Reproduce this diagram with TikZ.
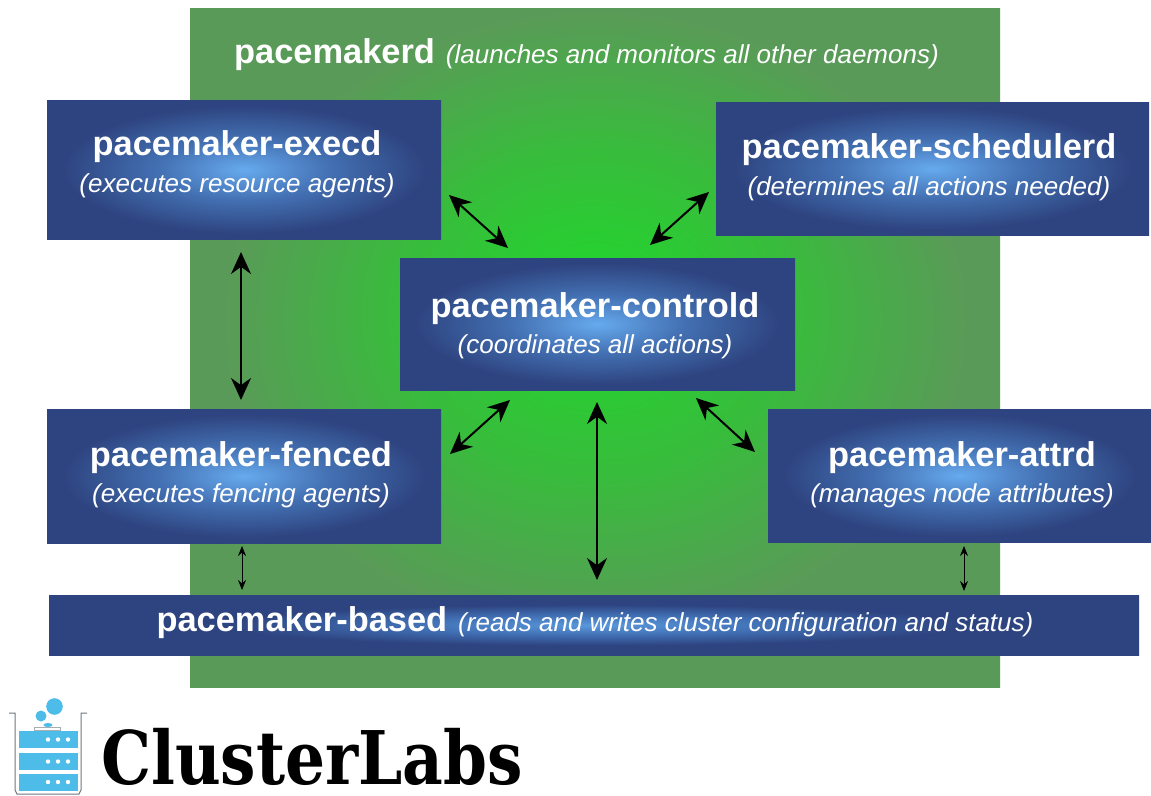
\documentclass[tikz,border=0pt]{standalone}
\usepackage{fontspec}
\setmainfont{Liberation Sans}
\newfontfamily\logofont[FakeStretch=0.85]{DejaVu Serif}
\usetikzlibrary{arrows.meta}

\definecolor{groundout}{HTML}{5A9A58}
\definecolor{groundmid}{HTML}{38BC3C}
\definecolor{groundin}{HTML}{20D82C}
\definecolor{boxout}{HTML}{2E4480}
\definecolor{boxmid}{HTML}{4370B2}
\definecolor{boxin}{HTML}{66AAEE}
\definecolor{barmid}{HTML}{3F6CB0}
\definecolor{barin}{HTML}{5A98DC}
\definecolor{logoblue}{HTML}{4DBCE9}
\definecolor{logogray}{HTML}{6E7780}

% the path's box covers the inner 25bp of a radial shading
\pgfdeclareradialshading{groundglow}{\pgfpoint{0bp}{3.5bp}}{color(0bp)=(groundin); color(12bp)=(groundmid); color(23bp)=(groundout); color(50bp)=(groundout)}
\pgfdeclareradialshading{boxglow}{\pgfpoint{0bp}{0bp}}{color(0bp)=(boxin); color(11bp)=(boxmid); color(23bp)=(boxout); color(50bp)=(boxout)}
\pgfdeclareradialshading{barglow}{\pgfpoint{0bp}{0bp}}{color(0bp)=(barin); color(9bp)=(barmid); color(17bp)=(boxout); color(50bp)=(boxout)}

\tikzset{
  daemon/.style={shading=boxglow, draw=none, inner sep=0pt, outer sep=0pt},
  dname/.style={text=white, inner sep=0pt, anchor=base, font=\fontsize{34.4}{38}\selectfont\bfseries},
  dnote/.style={text=white, inner sep=0pt, anchor=base, font=\fontsize{26}{30}\selectfont\itshape},
  biarrow/.style={{Stealth[length=22pt,width=20pt]}-{Stealth[length=22pt,width=20pt]}, line width=2pt, black},
  smallarrow/.style={{Stealth[length=10pt,width=8pt]}-{Stealth[length=10pt,width=8pt]}, line width=1pt, black},
  rack/.style={fill=logoblue, draw=none, minimum width=59pt, minimum height=17pt, inner sep=0pt},
}
\newcommand{\notetext}[1]{{\fontsize{26}{30}\selectfont\mdseries\itshape #1}}

\begin{document}
\begin{tikzpicture}[x=1pt,y=-1pt]
\useasboundingbox (0,0) rectangle (1151,795);

\node[shading=groundglow, minimum width=810pt, minimum height=679pt, inner sep=0pt] (ground) at (595,347.5) {};
\node[dname] (maind) at (586.5,63) {pacemakerd\hspace{11pt}\notetext{(launches and monitors all other daemons)}};

\node[daemon, minimum width=394pt, minimum height=139pt] (exec) at (244,169.5) {};
\node[dname] (execname) at (237,155) {pacemaker-execd};
\node[dnote] (execnote) at (237,192) {(executes resource agents)};

\node[daemon, minimum width=433pt, minimum height=133pt] (sched) at (932.5,168.5) {};
\node[dname] (schedname) at (929,158) {pacemaker-schedulerd};
\node[dnote] (schednote) at (929,195) {(determines all actions needed)};

\node[daemon, minimum width=395pt, minimum height=132pt] (control) at (597.5,324) {};
\node[dname] (controlname) at (595,317) {pacemaker-controld};
\node[dnote] (controlnote) at (595,353) {(coordinates all actions)};

\node[daemon, minimum width=394pt, minimum height=134pt] (fenced) at (244,476) {};
\node[dname] (fencedname) at (241,466) {pacemaker-fenced};
\node[dnote] (fencednote) at (241,502) {(executes fencing agents)};

\node[daemon, minimum width=383pt, minimum height=133pt] (attrd) at (959.5,475.5) {};
\node[dname] (attrdname) at (962,466) {pacemaker-attrd};
\node[dnote] (attrdnote) at (962,502) {(manages node attributes)};

\node[daemon, shading=barglow, minimum width=1090pt, minimum height=60pt] (based) at (594,625) {};
\node[dname] (basedname) at (595,631) {pacemaker-based\hspace{11pt}\notetext{(reads and writes cluster configuration and status)}};

\draw[biarrow] ([shift={(8,-44)}]exec.south east) -- ([shift={(108,-10)}]control.north west);
\draw[biarrow] ([shift={(-7,-43)}]sched.south west) -- ([shift={(-145,-13)}]control.north east);
\draw[biarrow] ([shift={(-3,13)}]exec.south) -- ([shift={(-3,-9)}]fenced.north);
\draw[biarrow] ([shift={(110,10)}]control.south west) -- ([shift={(9,-89)}]fenced.south east);
\draw[biarrow] ([shift={(-0.5,12)}]control.south) -- ([shift={(3,-15)}]based.north);
\draw[biarrow] ([shift={(-99,8)}]control.south east) -- ([shift={(-13,43)}]attrd.north west);
\draw[smallarrow] ([shift={(-2,3)}]fenced.south) -- ([shift={(-352,-5)}]based.north);
\draw[smallarrow] ([shift={(4.5,4)}]attrd.south) -- ([shift={(370,-4)}]based.north);

% logo
\node[rack] (rackA) at (48.5,739.5) {};
\node[rack] (rackB) at (48.5,761.5) {};
\node[rack] (rackC) at (48.5,782) {};
\foreach \r in {rackA,rackB,rackC}
  \foreach \d in {0,10,20}
    \fill[white] ([xshift=\d pt-0.5pt]\r.center) circle (2.2);
\draw[logogray, line width=1pt] (9,713) -- (15,713) -- (15,790) -- (17,794) -- (79,794) -- (81,790) -- (81,713) -- (87,713);
\fill[logoblue] (48,725) ellipse (4.5 and 2);
\filldraw[draw=logogray!60, fill=white, line width=0.5pt] (34,727) rectangle (60,730);
\fill[logoblue] (54.5,706.5) circle (8.3);
\fill[logoblue] (41,716) circle (5.5);
\node[inner sep=0pt, anchor=base west, text depth=0pt] (brand) at (101,784) {\logofont\bfseries\fontsize{74}{76}\selectfont ClusterLabs};
\end{tikzpicture}
\end{document}
